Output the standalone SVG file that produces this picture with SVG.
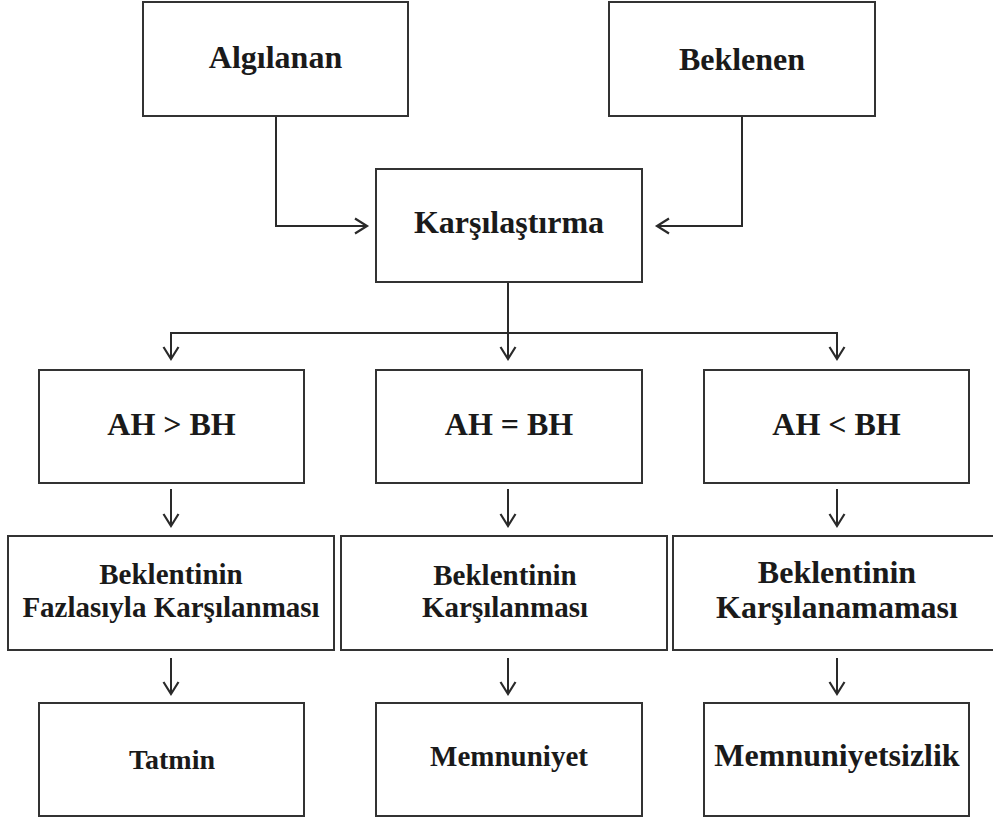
<svg xmlns="http://www.w3.org/2000/svg" width="993" height="821" viewBox="0 0 993 821">
<style>
  .box { fill: #ffffff; stroke: #333333; stroke-width: 2; }
  .t { font-family: "Liberation Serif", "Times New Roman", serif; font-weight: bold; fill: #1a1a1a; text-anchor: middle; }
  .conn { fill: none; stroke: #2a2a2a; stroke-width: 2; }
</style>
<defs>
  <marker id="arr" markerUnits="userSpaceOnUse" markerWidth="20" markerHeight="20" viewBox="-14 -10 16 20" refX="0" refY="0" orient="auto">
    <path d="M-12,-7.5 L0,0 L-12,7.5" fill="none" stroke="#2a2a2a" stroke-width="2.2"/>
  </marker>
</defs>
<rect width="993" height="821" fill="#ffffff"/>

<g id="connectors">
  <path class="conn" d="M276,116 V226 H367" marker-end="url(#arr)"/>
  <path class="conn" d="M742,116 V226 H657" marker-end="url(#arr)"/>
  <path class="conn" d="M508,282 V359" marker-end="url(#arr)"/>
  <path class="conn" d="M171,359 V333 H837 V359" />
  <path class="conn" d="M171,340 V359" marker-end="url(#arr)"/>
  <path class="conn" d="M837,340 V359" marker-end="url(#arr)"/>
  <path class="conn" d="M171,489 V526" marker-end="url(#arr)"/>
  <path class="conn" d="M508,489 V526" marker-end="url(#arr)"/>
  <path class="conn" d="M837,489 V526" marker-end="url(#arr)"/>
  <path class="conn" d="M171,658 V694" marker-end="url(#arr)"/>
  <path class="conn" d="M508,658 V694" marker-end="url(#arr)"/>
  <path class="conn" d="M837,658 V694" marker-end="url(#arr)"/>
</g>

<g id="algilanan">
  <rect class="box" x="143" y="2" width="265" height="114"/>
  <text class="t" x="275.5" y="68" font-size="32">Algılanan</text>
</g>
<g id="beklenen">
  <rect class="box" x="609" y="2" width="266" height="114"/>
  <text class="t" x="742" y="70" font-size="32">Beklenen</text>
</g>
<g id="karsilastirma">
  <rect class="box" x="376" y="169" width="266" height="113"/>
  <text class="t" x="509" y="233" font-size="32">Karşılaştırma</text>
</g>

<g id="ah-gt-bh">
  <rect class="box" x="39" y="370" width="265" height="113"/>
  <text class="t" x="171.5" y="435" font-size="32">AH &gt; BH</text>
</g>
<g id="ah-eq-bh">
  <rect class="box" x="376" y="370" width="266" height="113"/>
  <text class="t" x="509" y="435" font-size="32">AH = BH</text>
</g>
<g id="ah-lt-bh">
  <rect class="box" x="704" y="370" width="265" height="113"/>
  <text class="t" x="836.5" y="435" font-size="32">AH &lt; BH</text>
</g>

<g id="fazlasiyla">
  <rect class="box" x="8" y="536" width="326" height="114"/>
  <text class="t" x="171" y="584" font-size="29">Beklentinin</text>
  <text class="t" x="171" y="617" font-size="29">Fazlasıyla Karşılanması</text>
</g>
<g id="karsilanmasi">
  <rect class="box" x="341" y="536" width="326" height="114"/>
  <text class="t" x="505" y="585" font-size="29">Beklentinin</text>
  <text class="t" x="505" y="617" font-size="29">Karşılanması</text>
</g>
<g id="karsilanamamasi">
  <rect class="box" x="673" y="536" width="340" height="114"/>
  <text class="t" x="837" y="583" font-size="32">Beklentinin</text>
  <text class="t" x="837" y="618" font-size="32">Karşılanamaması</text>
</g>

<g id="tatmin">
  <rect class="box" x="39" y="703" width="265" height="113"/>
  <text class="t" x="172" y="769" font-size="28">Tatmin</text>
</g>
<g id="memnuniyet">
  <rect class="box" x="376" y="703" width="266" height="113"/>
  <text class="t" x="509" y="766" font-size="29">Memnuniyet</text>
</g>
<g id="memnuniyetsizlik">
  <rect class="box" x="704" y="703" width="265" height="113"/>
  <text class="t" x="837" y="766" font-size="32">Memnuniyetsizlik</text>
</g>
</svg>
